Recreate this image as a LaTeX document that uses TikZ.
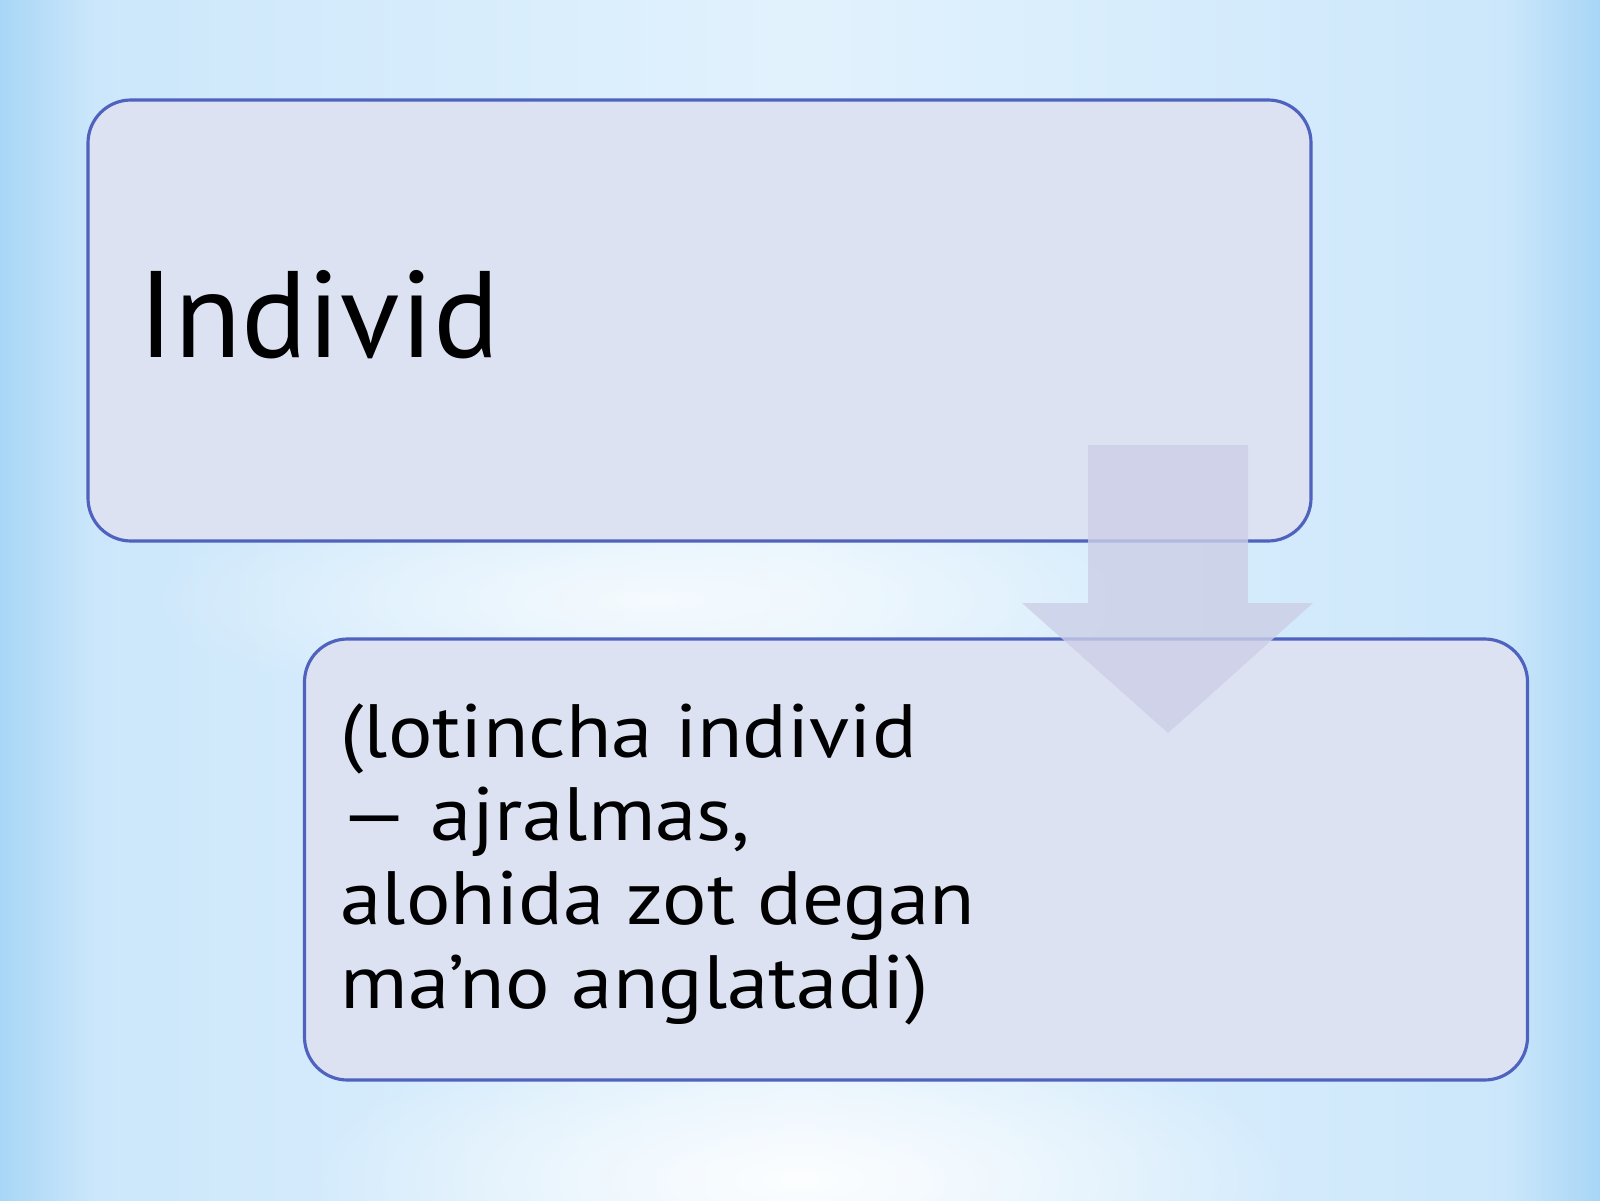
\documentclass[tikz,border=0pt]{standalone}
\usepackage{fontspec}
\setmainfont{PT Sans}
\newfontfamily\widefont[FakeStretch=1.1]{PT Sans}
\usetikzlibrary{fadings}

\definecolor{bgedge}{RGB}{168,214,246}
\definecolor{bgside}{RGB}{204,231,251}
\definecolor{bgmid}{RGB}{226,242,253}
\definecolor{boxfill}{RGB}{221,226,243}
\definecolor{boxline}{RGB}{78,98,190}
\definecolor{arrowfill}{RGB}{204,207,230}

\pgfdeclarehorizontalshading{slidebg}{100bp}{color(0bp)=(bgedge); color(25bp)=(bgedge);
  color(28bp)=(bgside); color(50bp)=(bgmid); color(72bp)=(bgside); color(75bp)=(bgedge);
  color(100bp)=(bgedge)}
\tikzfading[name=glow, inner color=transparent!0, outer color=transparent!100]

\tikzset{
  stepbox/.style={draw=boxline, line width=0.9pt, fill=boxfill,
    rounded corners=0.43cm, minimum width=12.23cm, minimum height=4.41cm},
  boxtext/.style={inner sep=0pt, text=black, align=left}
}

\begin{document}
\begin{tikzpicture}
% background
\useasboundingbox (0,0) rectangle (16,12);
\shade[shading=slidebg] (0,0) rectangle (16,12);
\fill[white, path fading=glow, opacity=0.9] (8,0.2) ellipse [x radius=5, y radius=1.6];
\fill[white, path fading=glow, opacity=0.7] (6.5,6) ellipse [x radius=5, y radius=1.2];

% boxes
\node [stepbox] at (6.995,8.795) (top) {};
\node [stepbox] at (9.16,3.405) (bottom) {};

% arrow
\fill[arrowfill, opacity=0.8] (10.88,7.55) -- (12.48,7.55) -- (12.48,5.97) -- (13.13,5.97)
  -- (11.68,4.67) -- (10.22,5.97) -- (10.88,5.97) -- cycle;

% texts
\node [boxtext, anchor=base west, font=\fontsize{35}{40}\selectfont] at (1.38,8.43) (title) {Individ};
\node [boxtext, anchor=base west, font=\widefont\fontsize{21.5}{23.8}\selectfont] at (3.40,1.92) (desc)
  {(lotincha individ\\— ajralmas,\\alohida zot degan\\ma’no anglatadi)};
\end{tikzpicture}
\end{document}
